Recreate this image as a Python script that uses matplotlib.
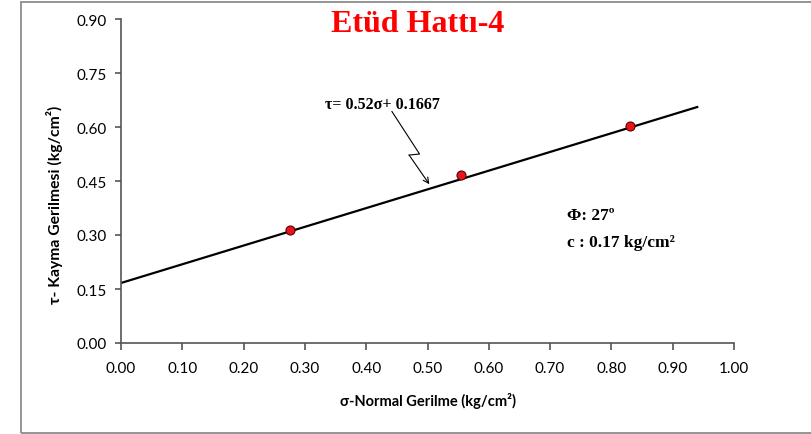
import matplotlib.pyplot as plt
from matplotlib.patches import Rectangle

# measured points (normal stress, shear stress)
sigma = [0.275, 0.555, 0.83]
tau = [0.315, 0.466, 0.602]

# fitted line tau = a*sigma + c
slope = 0.52
intercept = 0.1667
line_x = [0.0, 0.94]
line_y = [slope * x + intercept for x in line_x]

x_ticks = [i / 10 for i in range(11)]
y_ticks = [0.0, 0.15, 0.30, 0.45, 0.60, 0.75, 0.90]

tick_font = 'Lato'
serif = 'Liberation Serif'

fig = plt.figure(figsize=(8.11, 4.35), dpi=100)
ax = fig.add_axes([121 / 811, 1 - 344 / 435, 613 / 811, 324 / 435])

# outer chart border
fig.patches.append(Rectangle((20.5 / 811, 1 / 435), 1.2, 431 / 435,
                             transform=fig.transFigure, fill=False,
                             edgecolor='#8c8c8c', linewidth=1.3))

ax.plot(line_x, line_y, color='black', linewidth=1.6, zorder=2)
ax.plot(sigma, tau, 'o', markersize=6.5, markerfacecolor='#e8141b',
        markeredgecolor='#5a0000', markeredgewidth=0.8, zorder=3)

ax.set_xlim(0, 1.0)
ax.set_ylim(0, 0.9)
ax.set_xticks(x_ticks)
ax.set_yticks(y_ticks)
ax.set_xticklabels(['%.2f' % v for v in x_ticks], fontfamily=tick_font, fontsize=11)
ax.set_yticklabels(['%.2f' % v for v in y_ticks], fontfamily=tick_font, fontsize=11)

for side in ['top', 'right']:
    ax.spines[side].set_visible(False)
for side in ['left', 'bottom']:
    ax.spines[side].set_color('#555555')
    ax.spines[side].set_linewidth(1.2)
ax.tick_params(axis='x', direction='out', length=5, width=1.2, color='#555555', pad=8)
ax.tick_params(axis='y', direction='out', length=4, width=1.2, color='#555555', pad=6)

ax.set_xlabel('σ-Normal Gerilme (kg/cm²)', fontfamily=tick_font,
              fontweight='bold', fontsize=10.5)
ax.xaxis.set_label_coords(0.5, -0.15)
ax.set_ylabel('τ- Kayma Gerilmesi (kg/cm²)', fontfamily=tick_font,
              fontweight='bold', fontsize=11.3)
ax.yaxis.set_label_coords(-0.094, 0.43)

fig.text(418 / 811, 1 - 25 / 435, 'Etüd Hattı-4', color='#ff0000', fontfamily=serif,
         fontweight='bold', fontsize=23, ha='center', va='center')

# equation label with zig-zag leader
ax.text(0.333, 0.665, 'τ= 0.52σ+ 0.1667', fontfamily=serif, fontweight='bold',
        fontsize=11.5, ha='left', va='center')
zx = [0.442, 0.487, 0.470]
zy = [0.643, 0.525, 0.522]
ax.plot(zx, zy, color='black', linewidth=0.8)
ax.annotate('', xy=(0.503, 0.441), xytext=(zx[-1], zy[-1]),
            arrowprops=dict(arrowstyle='->', color='black', lw=0.8, shrinkA=0, shrinkB=0))

ax.text(0.727, 0.356, 'Φ: 27º', fontfamily=serif, fontweight='bold',
        fontsize=12.5, ha='left', va='center')
ax.text(0.727, 0.281, 'c : 0.17 kg/cm²', fontfamily=serif, fontweight='bold',
        fontsize=12.5, ha='left', va='center')

fig.savefig('out.png', dpi=100)
